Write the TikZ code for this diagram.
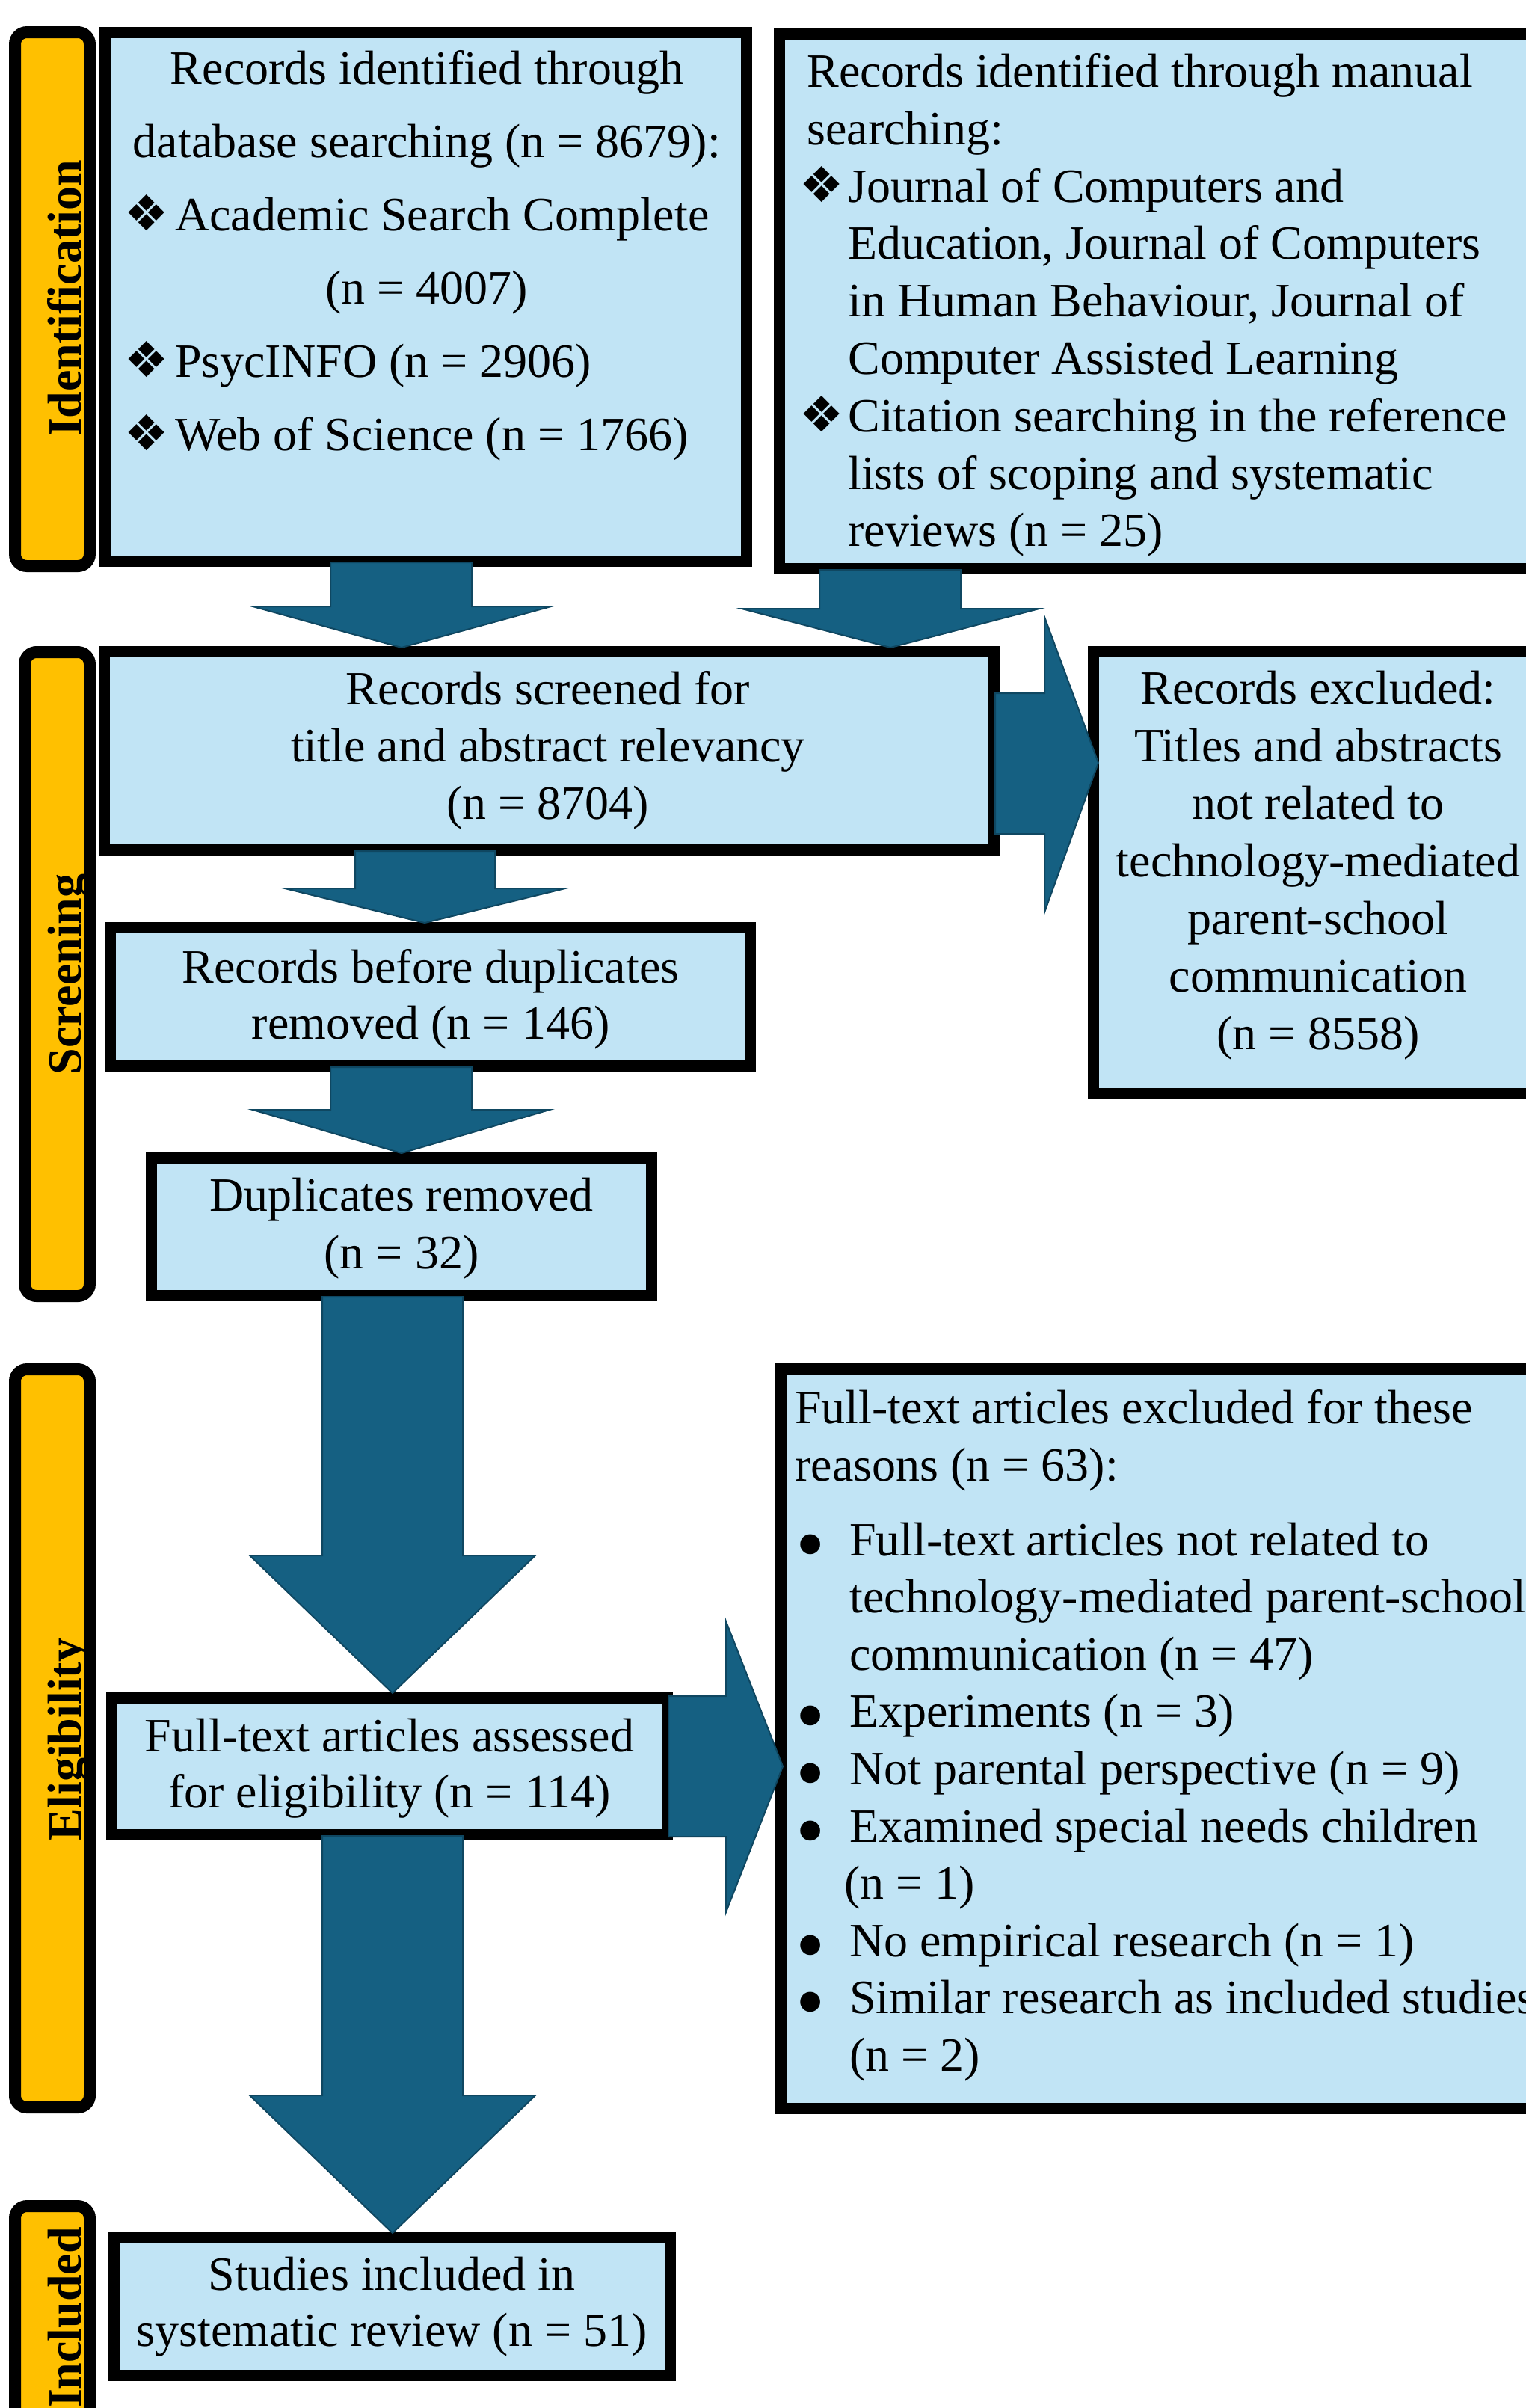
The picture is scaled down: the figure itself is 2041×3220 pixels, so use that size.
\documentclass[tikz,border=0pt]{standalone}
\usepackage{fontspec}
\setmainfont{Liberation Serif}
\newfontfamily\dejavu{DejaVu Sans}
\usetikzlibrary{fit}
\definecolor{boxblue}{HTML}{C1E4F5}
\definecolor{arrowblue}{HTML}{156082}
\definecolor{arrowline}{HTML}{0F4761}
\definecolor{stagegold}{HTML}{FFC000}
\newcommand\toprl{\rule{0pt}{30pt}}
\newcommand\dia{\makebox[34pt][l]{\smash{\dejavu\fontsize{33}{33}\selectfont ❖}}}
\newcommand\dib{\makebox[32.5pt][l]{\smash{\dejavu\fontsize{33}{33}\selectfont ❖}}}
\newcommand\bul{\hspace*{0.5pt}\makebox[36pt][l]{\smash{\raisebox{-11pt}{\fontsize{56}{56}\selectfont •}}}}
\begin{document}
\begin{tikzpicture}[x=0.5pt,y=-0.5pt,
  box/.style={draw=black, line width=7.5pt, fill=boxblue, inner sep=0pt, rectangle},
  stage/.style={draw=black, line width=8pt, fill=stagegold, rounded corners=8pt, inner sep=0pt, rectangle},
  blockarrow/.style={fill=arrowblue, draw=arrowline, line width=1pt, line join=miter},
  txt/.style={inner sep=0pt, font=\fontsize{32}{38.4}\selectfont},
  stagetxt/.style={inner sep=0pt, rotate=90, anchor=base, font=\fontsize{32}{38}\selectfont\bfseries}]
\useasboundingbox (0,0) rectangle (2041,3220);
\clip (0,0) rectangle (2041,3220);
\fill[white] (0,0) rectangle (2041,3220);

% stage bars
\node[stage, fit={(20,43) (120,757)}] (sid) {};
\node[stage, fit={(33,872) (120,1733)}] (ssc) {};
\node[stage, fit={(20,1831) (120,2818)}] (sel) {};
\node[stage, fit={(20,2950) (120,3400)}] (sin) {};

% boxes
\node[box, fit={(140.5,43.5) (998.5,750.5)}] (b1) {};
\node[box, fit={(1042.5,45.5) (2100,760.5)}] (b2) {};
\node[box, fit={(139.5,871.5) (1329.5,1136.5)}] (b3) {};
\node[box, fit={(1462.5,871.5) (2100,1462.5)}] (bx) {};
\node[box, fit={(147.5,1240.5) (1003.5,1425.5)}] (b4) {};
\node[box, fit={(202.5,1548.5) (871.5,1732.5)}] (b5) {};
\node[box, fit={(149.5,2270.5) (892.5,2453.5)}] (b6) {};
\node[box, fit={(152.5,2991.5) (896.5,3176.5)}] (b7) {};
\node[box, fit={(1044.5,1830.5) (2100,2819.5)}] (b8) {};

% block arrows
\draw[blockarrow] (442,752)--(631,752)--(631,811)--(737,811)--(537,866)--(338,811)--(442,811)--cycle;
\draw[blockarrow] (1096,762)--(1285,762)--(1285,814)--(1390,814)--(1191,866)--(992,814)--(1096,814)--cycle;
\draw[blockarrow] (475,1138)--(662,1138)--(662,1188)--(756,1188)--(568,1234)--(381,1188)--(475,1188)--cycle;
\draw[blockarrow] (442,1427)--(631,1427)--(631,1484)--(735,1484)--(537,1542)--(338,1484)--(442,1484)--cycle;
\draw[blockarrow] (431,1734)--(619,1734)--(619,2080)--(716,2080)--(525,2264)--(334,2080)--(431,2080)--cycle;
\draw[blockarrow] (431,2455)--(619,2455)--(619,2802)--(716,2802)--(525,2986)--(334,2802)--(431,2802)--cycle;
\draw[blockarrow] (1331,927)--(1397,927)--(1397,825)--(1469,1020)--(1397,1220)--(1397,1115)--(1331,1115)--cycle;
\draw[blockarrow] (894,2268)--(971,2268)--(971,2168)--(1047,2362)--(971,2557)--(971,2456)--(894,2456)--cycle;

% stage labels
\node[stagetxt] (lid) at (108,399) {Identification};
\node[stagetxt] (lsc) at (108,1303) {Screening};
\node[stagetxt] (lel) at (108,2326) {Eligibility};
\node[stagetxt] (lin) at (108,3099) {Included};

% texts
\node[txt, anchor=north, align=center, font=\fontsize{32}{49}\selectfont] (t1) at (571,52) {\toprl Records identified through\\
database searching (n = 8679):\\
\makebox[405pt][l]{\dia Academic Search Complete}\\
(n = 4007)\\
\makebox[405pt][l]{\dia PsycINFO (n = 2906)}\\
\makebox[405pt][l]{\dia Web of Science (n = 1766)}};

\node[txt, anchor=north west, align=left] (t2) at (1069,56) {\toprl\hspace*{5pt}Records identified through manual\\
\hspace*{5pt}searching:\\
\dib Journal of Computers and\\
\hspace*{32.5pt}Education, Journal of Computers\\
\hspace*{32.5pt}in Human Behaviour, Journal of\\
\hspace*{32.5pt}Computer Assisted Learning\\
\dib Citation searching in the reference\\
\hspace*{32.5pt}lists of scoping and systematic\\
\hspace*{32.5pt}reviews (n = 25)};

\node[txt, anchor=north, align=center, font=\fontsize{32}{38.25}\selectfont] (t3) at (733,882) {\toprl Records screened for\\title and abstract relevancy\\(n = 8704)};

\node[txt, anchor=north, align=center, font=\fontsize{32}{38.5}\selectfont] (tx) at (1763,881) {\toprl Records excluded:\\Titles and abstracts\\not related to\\technology-mediated\\parent-school\\communication\\(n = 8558)};

\node[txt, anchor=north, align=center, font=\fontsize{32}{37.5}\selectfont] (t4) at (576,1254) {\toprl Records before duplicates\\removed (n = 146)};

\node[txt, anchor=north, align=center, font=\fontsize{32}{38.5}\selectfont] (t5) at (537,1559) {\toprl Duplicates removed\\(n = 32)};

\node[txt, anchor=north, align=center, font=\fontsize{32}{37.5}\selectfont] (t6) at (521,2282) {\toprl Full-text articles assessed\\for eligibility (n = 114)};

\node[txt, anchor=north, align=center, font=\fontsize{32}{37.5}\selectfont] (t7) at (524,3002) {\toprl Studies included in\\systematic review (n = 51)};

\node[txt, anchor=north west, align=left, font=\fontsize{32}{38.3}\selectfont] (t8) at (1063,1843) {\toprl Full-text articles excluded for these\\
reasons (n = 63):\\[11.7pt]
\bul Full-text articles not related to\\
\hspace*{36.5pt}technology-mediated parent-school\\
\hspace*{36.5pt}communication (n = 47)\\
\bul Experiments (n = 3)\\
\bul Not parental perspective (n = 9)\\
\bul Examined special needs children\\
\hspace*{33pt}(n = 1)\\
\bul No empirical research (n = 1)\\
\bul Similar research as included studies\\
\hspace*{36.5pt}(n = 2)};
\end{tikzpicture}
\end{document}
